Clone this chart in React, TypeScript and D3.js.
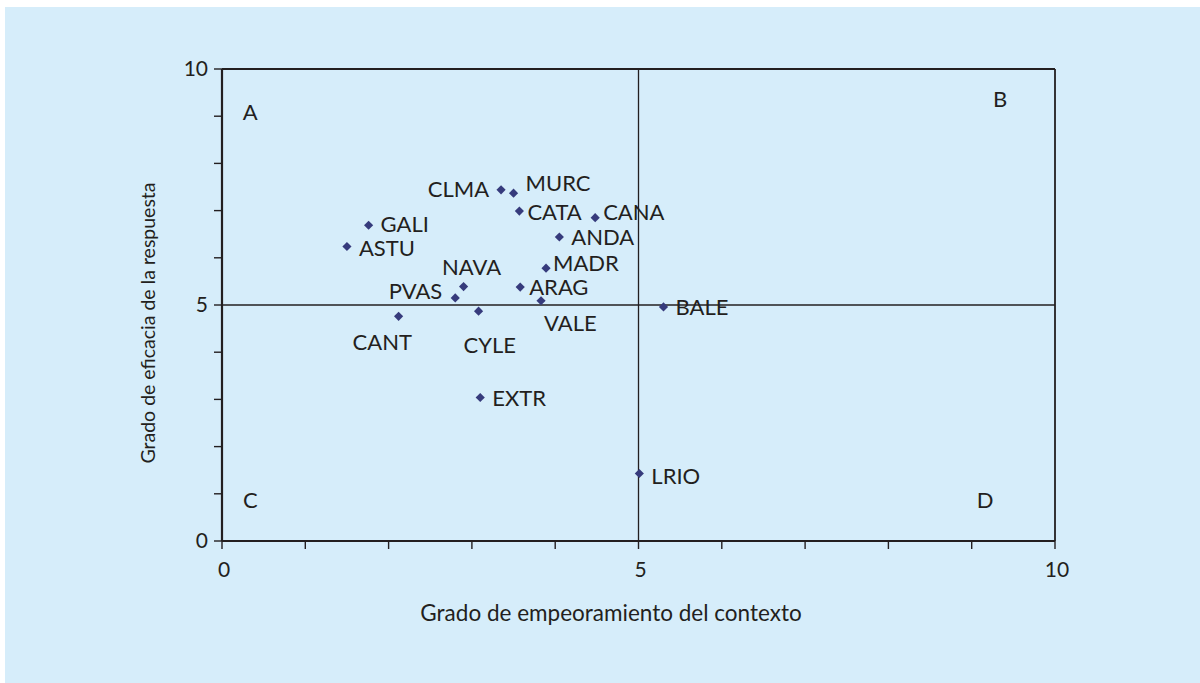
import React from 'react';
import * as d3 from 'd3';

const regions = ['CLMA', 'MURC', 'CATA', 'CANA', 'ANDA', 'GALI', 'ASTU', 'MADR', 'NAVA', 'ARAG', 'PVAS', 'VALE', 'CYLE', 'CANT', 'EXTR', 'LRIO', 'BALE'];
const contexto = [3.35, 3.5, 3.57, 4.48, 4.05, 1.76, 1.5, 3.89, 2.9, 3.58, 2.8, 3.83, 3.08, 2.12, 3.1, 5.01, 5.3];
const respuesta = [7.44, 7.37, 6.99, 6.85, 6.44, 6.69, 6.24, 5.78, 5.39, 5.38, 5.15, 5.09, 4.87, 4.76, 3.04, 1.43, 4.96];

const xTicks = [0, 1, 2, 3, 4, 5, 6, 7, 8, 9, 10];
const yTicks = [0, 1, 2, 3, 4, 5, 6, 7, 8, 9, 10];
const labeledTicks = [0, 5, 10];

const quadrantLetters = ['A', 'B', 'C', 'D'];
const quadrantX = [0.34, 9.34, 0.34, 9.16];
const quadrantY = [8.92, 9.19, 0.7, 0.7];

const xTitle = 'Grado de empeoramiento del contexto';
const yTitle = 'Grado de eficacia de la respuesta';

// label placement relative to each point (pixels): [dx, dy, anchor]
const labelPlacement: Record<string, [number, number, string]> = {
  CLMA: [-12, 7, 'end'],
  MURC: [12, -2, 'start'],
  CATA: [8, 9, 'start'],
  CANA: [8, 2, 'start'],
  ANDA: [12, 8, 'start'],
  GALI: [12, 7, 'start'],
  ASTU: [12, 10, 'start'],
  MADR: [7, 3, 'start'],
  NAVA: [8, -12, 'middle'],
  ARAG: [9, 8, 'start'],
  PVAS: [-13, 1, 'end'],
  VALE: [3, 30, 'start'],
  CYLE: [-15, 42, 'start'],
  CANT: [-46, 34, 'start'],
  EXTR: [12, 8, 'start'],
  LRIO: [12, 10, 'start'],
  BALE: [12, 8, 'start'],
};

const W = 1200;
const H = 683;
const left = 222, right = 1055, top = 69, bottom = 541;

export default function App() {
  const x = d3.scaleLinear().domain([0, 10]).range([left, right]);
  const y = d3.scaleLinear().domain([0, 10]).range([bottom, top]);
  const diamond = d3.symbol().type(d3.symbolSquare).size(42)() as string;
  const ink = '#231f20';
  const font = 'Lato, "Open Sans", sans-serif';

  return (
    <svg width={W} height={H} style={{ position: 'absolute', left: 0, top: 0 }}>
      <rect x={5} y={7} width={W - 5} height={H - 7} fill="#d6edfa" />
      {/* reference lines */}
      <line x1={x(5)} x2={x(5)} y1={y(0)} y2={y(10)} stroke={ink} strokeWidth={1.3} />
      <line x1={x(0)} x2={x(10)} y1={y(5)} y2={y(5)} stroke={ink} strokeWidth={1.3} />
      {/* frame */}
      <line x1={x(0)} x2={x(10)} y1={y(10)} y2={y(10)} stroke={ink} strokeWidth={2} />
      <line x1={x(10)} x2={x(10)} y1={y(0)} y2={y(10)} stroke={ink} strokeWidth={1.8} />
      <line x1={x(0)} x2={x(10)} y1={y(0)} y2={y(0)} stroke={ink} strokeWidth={2.2} />
      <line x1={x(0)} x2={x(0)} y1={y(0)} y2={y(10)} stroke={ink} strokeWidth={2.2} />
      {/* ticks */}
      {xTicks.map((t) => (
        <line key={'xt' + t} x1={x(t)} x2={x(t)} y1={y(0)} y2={y(0) + 8} stroke={ink} strokeWidth={1.4} />
      ))}
      {yTicks.map((t) => (
        <line key={'yt' + t} x1={x(0) - 8} x2={x(0)} y1={y(t)} y2={y(t)} stroke={ink} strokeWidth={1.4} />
      ))}
      {labeledTicks.map((t) => (
        <text key={'xl' + t} x={x(t) + 2} y={577} textAnchor="middle" fontFamily={font} fontSize={21} fill={ink}>{t}</text>
      ))}
      {labeledTicks.map((t) => (
        <text key={'yl' + t} x={208} y={y(t) + 7} textAnchor="end" fontFamily={font} fontSize={21} fill={ink}>{t}</text>
      ))}
      {/* quadrant letters */}
      {quadrantLetters.map((q, i) => (
        <text key={q} x={x(quadrantX[i])} y={y(quadrantY[i])} textAnchor="middle" fontFamily={font} fontSize={22} fill={ink}>{q}</text>
      ))}
      {/* points */}
      {regions.map((r, i) => (
        <path key={'p' + r} d={diamond} transform={`translate(${x(contexto[i])},${y(respuesta[i])}) rotate(45)`} fill="#363b7c" />
      ))}
      {regions.map((r, i) => {
        const [dx, dy, anchor] = labelPlacement[r];
        return (
          <text key={'l' + r} x={x(contexto[i]) + dx} y={y(respuesta[i]) + dy} textAnchor={anchor as any} fontFamily={font} fontSize={22} fill={ink}>{r}</text>
        );
      })}
      {/* axis titles */}
      <text x={611} y={621} textAnchor="middle" fontFamily={font} fontSize={22.5} fill={ink}>{xTitle}</text>
      <text transform={`translate(155,323) rotate(-90)`} textAnchor="middle" fontFamily={font} fontSize={19.5} fill={ink}>{yTitle}</text>
    </svg>
  );
}
